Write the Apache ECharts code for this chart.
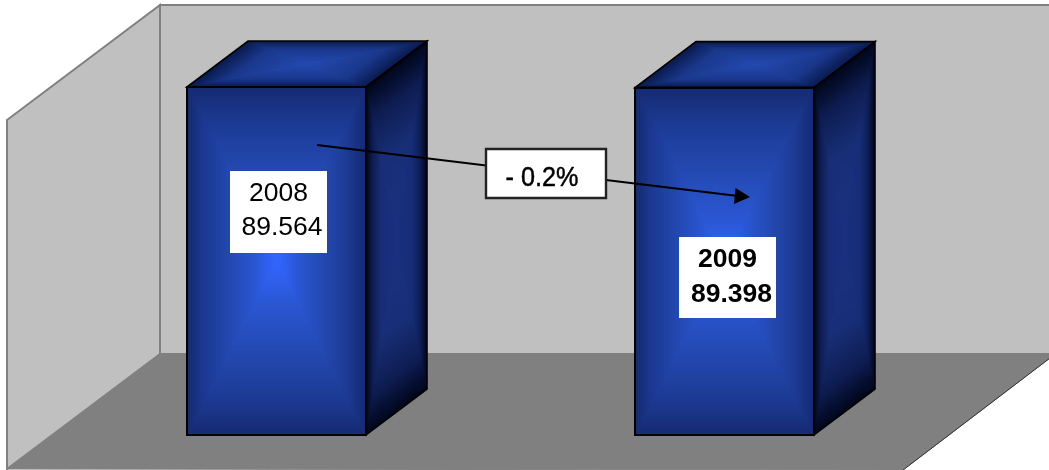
<!DOCTYPE html>
<html><head><meta charset="utf-8">
<style>html,body{margin:0;padding:0;background:#fff}#c{width:1049px;height:470px}</style>
<script src="https://cdn.jsdelivr.net/npm/echarts@6/dist/echarts.min.js"></script></head>
<body><div id="c"></div>
<script>
const categories = ['2008', '2009'];
const values = [89564, 89398];
const changeLabel = '- 0.2%';

const FONT = '"Liberation Sans", Arial, sans-serif';
const DEPTH = [61, -46];
const BAR_SHARE = 179 / 448;
const STEPS = 60;
const LABEL_BOXES = [
  {dx: -46.5, dy: 84, w: 97, h: 82, weight: 'normal', yearX: 2, valX: 5.5, yearY: 23, valY: 57},
  {dx: -45.5, dy: 149.4, w: 97, h: 81, weight: 'bold', yearX: 3, valX: 7, yearY: 23, valY: 58}
];
const FRONT = [[0, [22, 42, 114]], [0.2, [28, 58, 146]], [0.5, [36, 74, 180]], [0.75, [42, 86, 210]], [1, [51, 102, 255]]];
const SIDE = [[0, [0, 6, 26]], [0.2, [14, 28, 80]], [0.5, [24, 46, 120]], [1, [26, 50, 128]]];
const TOP = [[0, [10, 26, 76]], [0.35, [26, 56, 140]], [1, [36, 74, 176]]];

function shade(stops, t) {
  for (let i = 1; i < stops.length; i++) {
    if (t <= stops[i][0]) {
      const a = stops[i - 1], b = stops[i], k = (t - a[0]) / (b[0] - a[0]);
      return 'rgb(' + a[1].map((v, j) => Math.round(v + (b[1][j] - v) * k)).join(',') + ')';
    }
  }
  return 'rgb(' + stops[stops.length - 1][1].join(',') + ')';
}
function face(p, c, stops) {
  const out = [];
  for (let n = 0; n < STEPS; n++) {
    const t = n / STEPS, col = shade(stops, (n + 0.5) / STEPS);
    out.push({type: 'polygon',
      shape: {points: p.map(q => [c[0] + (q[0] - c[0]) * (1 - t), c[1] + (q[1] - c[1]) * (1 - t)])},
      style: {fill: col}});
  }
  return out;
}
function outline(p, w) {
  return {type: 'polygon', shape: {points: p},
    style: {fill: 'none', stroke: '#000', lineWidth: w, lineJoin: 'miter'}};
}
function renderBar(params, api) {
  const i = api.value(0);
  const top = api.coord([i, api.value(1)]);
  const base = api.coord([i, 0]);
  const w = api.size([1, 0])[0] * BAR_SHARE;
  const l = top[0] - w / 2, r = top[0] + w / 2;
  const [dx, dy] = DEPTH;
  const front = [[l, top[1]], [r, top[1]], [r, base[1]], [l, base[1]]];
  const side = [[r, top[1]], [r + dx, top[1] + dy], [r + dx, base[1] + dy], [r, base[1]]];
  const lid = [[l, top[1]], [l + dx, top[1] + dy], [r + dx, top[1] + dy], [r, top[1]]];
  const mid = (top[1] + base[1]) / 2;
  const b = LABEL_BOXES[i];
  const val = (api.value(1) / 1000).toFixed(3);
  const boxX = Math.round(top[0] + b.dx), boxY = Math.round(top[1] + b.dy);
  const txt = (s, x, y) => ({type: 'text', style: {text: s, x: x, y: y, fill: '#000',
    font: b.weight + ' 26.5px ' + FONT, textAlign: 'center', textVerticalAlign: 'middle', verticalAlign: 'middle'}});
  return {type: 'group', children: [].concat(
    face(side, [r + dx / 2, mid + dy / 2], SIDE),
    face(lid, [(l + r + dx) / 2, top[1] + dy / 2], TOP),
    face(front, [top[0], mid], FRONT),
    [outline(side, 1.6), outline(lid, 1.6), outline(front, 2),
     {type: 'rect', shape: {x: boxX, y: boxY, width: b.w, height: b.h}, style: {fill: '#fff'}},
     txt(categories[i], top[0] + b.yearX, boxY + b.yearY),
     txt(val, top[0] + b.valX, boxY + b.valY)]
  )};
}

const chart = echarts.init(document.getElementById('c'), null, {renderer: 'canvas'});
chart.setOption({
  animation: false,
  backgroundColor: '#fff',
  grid: {left: 52.5, width: 896, top: 435 - 348 * 90000 / 89564, bottom: 35},
  xAxis: {type: 'category', data: categories, show: false},
  yAxis: {type: 'value', min: 0, max: 90000, show: false},
  graphic: {elements: [
    {type: 'polygon', z: 0, shape: {points: [[160, 5], [1052, 5], [1052, 354], [160, 354]]},
      style: {fill: '#c0c0c0', stroke: '#808080', lineWidth: 2}},
    {type: 'polygon', z: 0, shape: {points: [[7, 120], [160, 5], [160, 354], [7, 469]]},
      style: {fill: '#c0c0c0', stroke: '#808080', lineWidth: 2}},
    {type: 'polygon', z: 0, shape: {points: [[160, 354], [1050, 354], [1050, 358], [903, 470], [7, 469]]},
      style: {fill: '#808080', stroke: '#808080', lineWidth: 1}},
    {type: 'line', z: 0, shape: {x1: 1050, y1: 358, x2: 903, y2: 470}, style: {stroke: '#333', lineWidth: 1}},
    {type: 'line', z: 10, shape: {x1: 317, y1: 145, x2: 738, y2: 196}, style: {stroke: '#000', lineWidth: 2}},
    {type: 'polygon', z: 10, shape: {points: [[750, 197], [735.5, 188], [734, 204]]}, style: {fill: '#000'}},
    {type: 'rect', z: 11, shape: {x: 486, y: 149, width: 120, height: 49},
      style: {fill: '#fff', stroke: '#222', lineWidth: 2.4}},
    {type: 'text', z: 12, x: 542, y: 178, scaleX: 0.9, style: {text: changeLabel, x: 0, y: 0, fill: '#000',
      stroke: '#000', lineWidth: 0.5,
      font: '28px ' + FONT, textAlign: 'center', textVerticalAlign: 'middle', verticalAlign: 'middle'}}
  ]},
  series: [{
    type: 'custom', z: 2, clip: false, renderItem: renderBar,
    data: values.map((v, i) => [i, v]),
    encode: {x: 0, y: 1}
  }]
});
</script></body></html>
